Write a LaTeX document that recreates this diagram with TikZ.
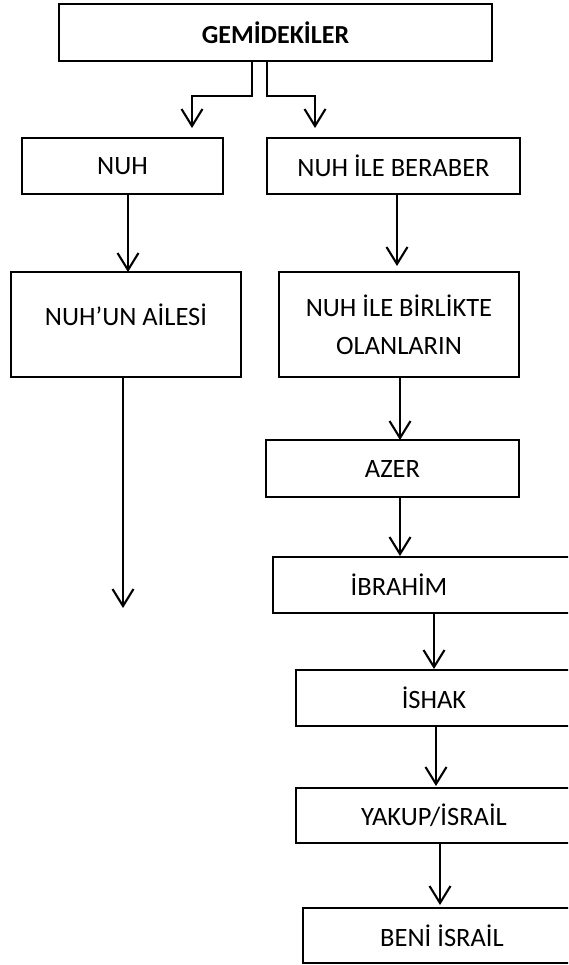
\documentclass[tikz,border=0pt]{standalone}
\usepackage{fontspec}
\setmainfont{Carlito}
\usetikzlibrary{arrows.meta}
\begin{document}
\begin{tikzpicture}[x=1pt,y=-1pt,
  txt/.style={font=\fontsize{26.5}{38}\selectfont},
  box/.style={draw,line width=2.3pt,rectangle,anchor=north west,inner sep=0pt,outer sep=0pt,
    txt,align=center},
  arr/.style={line width=2.3pt,-{Straight Barb[length=17pt,width=21pt,line width=2.1pt]}}]
\useasboundingbox (0,0) rectangle (568,965);
\clip (0,0) rectangle (568,965);
\node[box,minimum width=433pt,minimum height=57pt,font=\fontsize{26}{38}\selectfont\bfseries] (g) at (59,4) {GEMİDEKİLER};
\node[box,minimum width=201pt,minimum height=56pt] (nuh) at (22,138) {NUH};
\node[box,minimum width=253pt,minimum height=56pt] (ber) at (267,138) {NUH İLE BERABER};
\node[box,minimum width=230pt,minimum height=105pt,label={[yshift=10pt,txt]center:NUH’UN AİLESİ}] (aile) at (11,272) {};
\node[box,minimum width=240pt,minimum height=105pt] (birlikte) at (279,272) {NUH İLE BİRLİKTE\\OLANLARIN};
\node[box,minimum width=253pt,minimum height=57pt] (azer) at (266,440) {AZER};
\node[box,minimum width=299pt,minimum height=56pt,label={[xshift=-23.5pt,txt]center:İBRAHİM}] (ibr) at (273,557) {};
\node[box,minimum width=276pt,minimum height=56pt] (ishak) at (296,670) {İSHAK};
\node[box,minimum width=276pt,minimum height=55pt] (yakup) at (296,788) {YAKUP/İSRAİL};
\node[box,minimum width=278pt,minimum height=55pt] (beni) at (303,908) {BENİ İSRAİL};
\coordinate (endL) at (123,608);
\draw[arr] ([xshift=-23.5pt]g.south) -- ++(0,35) -| ([xshift=69.5pt,yshift=10pt]nuh.north);
\draw[arr] ([xshift=-8.5pt]g.south) -- ++(0,35) -| ([xshift=-78.5pt,yshift=10pt]ber.north);
\draw[arr] ([xshift=5.5pt]nuh.south) -- ([xshift=2pt]aile.north);
\draw[arr] ([xshift=3.5pt]ber.south) -- ([xshift=-2pt,yshift=6pt]birlikte.north);
\draw[arr] ([xshift=-3pt]aile.south) -- (endL);
\draw[arr] ([xshift=1pt]birlikte.south) -- ([xshift=7.5pt]azer.north);
\draw[arr] ([xshift=7.5pt]azer.south) -- ([xshift=-22.5pt,yshift=1pt]ibr.north);
\draw[arr] ([xshift=11.5pt]ibr.south) -- ([yshift=1pt]ishak.north);
\draw[arr] ([xshift=2pt]ishak.south) -- ([xshift=2pt,yshift=2pt]yakup.north);
\draw[arr] ([xshift=6pt]yakup.south) -- ([xshift=-2pt,yshift=3pt]beni.north);
\end{tikzpicture}
\end{document}
